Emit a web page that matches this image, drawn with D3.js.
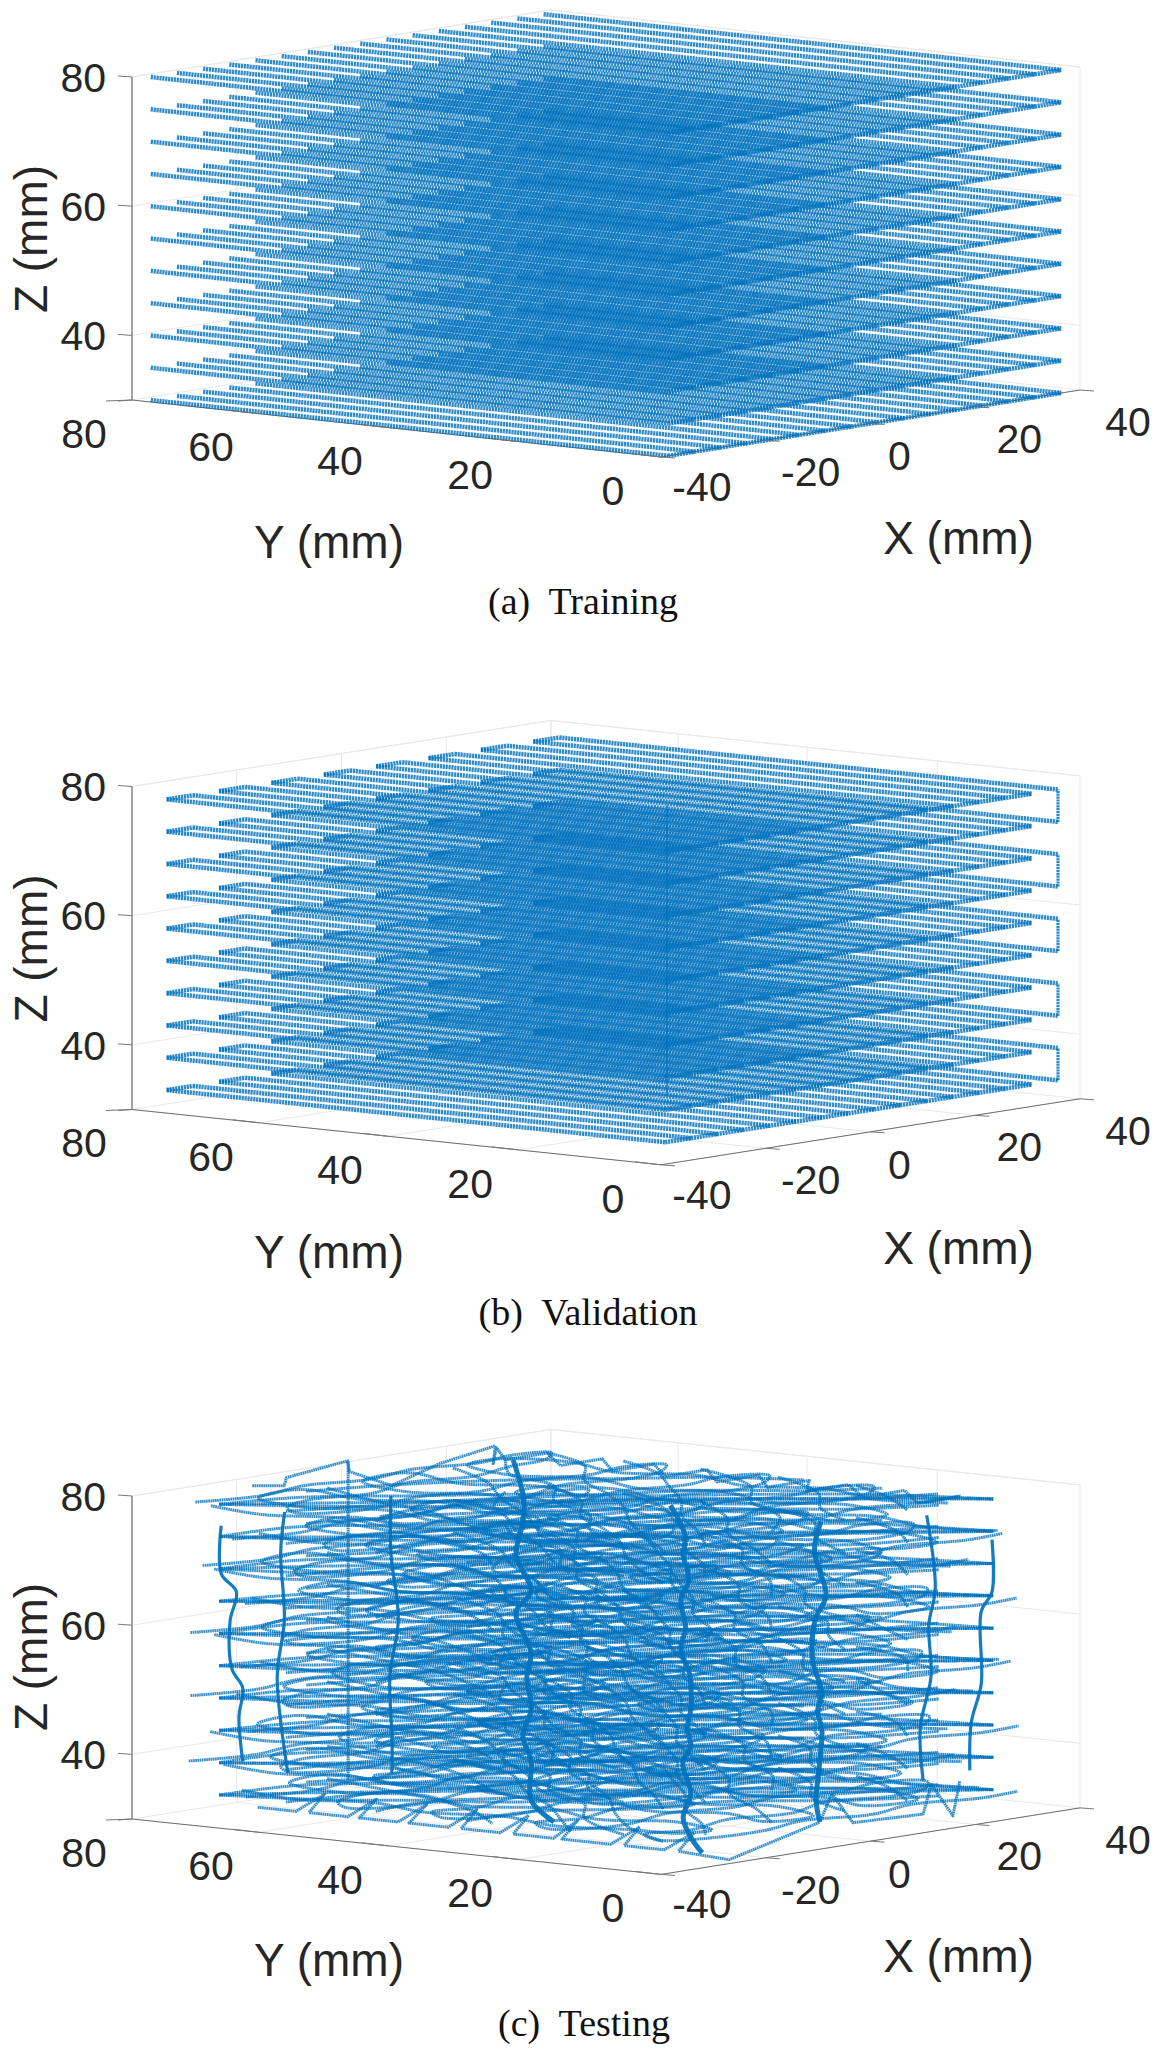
<!DOCTYPE html>
<html>
<head>
<meta charset="utf-8">
<script src="https://cdn.jsdelivr.net/npm/d3@7/dist/d3.min.js"></script>
<style>
html,body {margin:0;padding:0;background:#fff;}
svg {display:block;}
</style>
</head>
<body>
<svg id="holder"></svg>
<script>
// axis ticks
const z_ticks=[80,60,40];
const y_ticks=[80,60,40,20,0];
const x_ticks=[-40,-20,0,20,40];
const captions=['(a)  Training','(b)  Validation','(c)  Testing'];

// training scan: lines along Y, one set per layer
const train_x=[-38.6,-33.6,-28.6,-23.6,-18.6,-13.6,-8.6,-3.6,1.4,6.4,11.4,16.4,21.4,26.4,31.4,36.4];
const train_z=[30,35,40,45,50,55,60,65,70,75,80];
const train_y_far=78.2;
const train_y_near=0;

// validation scan
const val_x=[-39.2,-34.2,-29.2,-24.2,-19.2,-14.2,-9.2,-4.2,0.8,5.8,10.8,15.8,20.8,25.8,30.8,35.8];
const val_z=[33.4,38.4,43.4,48.4,53.4,58.4,63.4,68.4,73.4,78.4];
const val_y_far=75.2;
const val_y_near=0;
const val_riser=[-5,25.3];

// testing layers and how far each one sits off the mean track
const test_z=[33,38,43,48,53,58,63,68,73,78];
const test_shift_ax=[0.6,-1.1,1.4,-0.4,0.9,-1.5,0.2,1.2,-0.8,-0.2];
const test_shift_ay=[-3.7,3.9,-3.3,4.2,-2.6,3.3,-3.9,3.6,-2.7,3.6];
const test_shift_bx=[3.1,-2.9,-3.6,2.4,3.8,-3.2,2.7,-2.5,3.4,-3.7];
const test_shift_by=[1.1,-0.9,0.6,1.4,-1.2,0.3,-0.7,0.9,-1.3,0.4];

// runs along X, [X,Y]
const test_track_a=[[-30,74.5],[-20,72],[-10,74],[0,71.5],[10,73.5],[20,71],[28,72.5],[32.6,70],[28,67],
  [20,66],[10,63.5],[0,66],[-10,63],[-20,65],[-27,62.5],[-30,59],[-27,55],
  [-20,54],[-10,56.5],[0,54],[10,56],[20,53.5],[28,55],[32.6,52],[28,49],
  [20,47.5],[10,50],[0,47],[-10,49],[-20,46.5],[-27,48],[-30,44],[-27,40],
  [-20,39],[-10,41.5],[0,39],[10,41],[20,38.5],[28,40],[32.6,36],[28,33],
  [20,31],[10,33.5],[0,31],[-10,33],[-20,30.5],[-27,32],[-30,28],[-27,24],
  [-20,23],[-10,25.5],[0,23],[10,25],[20,22.5],[28,24],[32.6,20],[28,17],
  [20,15.5],[10,18],[0,15],[-10,17],[-20,14.5],[-27,16],[-30,12],[-26,9],
  [-15,8],[-5,10],[5,7.5],[15,9.5],[25,7],[32.6,7.5]];
// runs along Y, [X,Y]
const test_track_b=[[-28,74],[-30.5,64],[-27,54],[-30,44],[-27,34],[-30,24],[-27,15],[-26,9],
  [-21,8],[-18,15],[-22,24],[-18,34],[-22,44],[-18,54],[-22,64],[-19,74],
  [-12,76],[-9,74],[-12,64],[-8,54],[-12,44],[-8,34],[-12,24],[-8,15],[-11,8],
  [-3,7],[1,15],[-3,24],[1,34],[-3,44],[1,54],[-3,64],[1,74],
  [8,76],[11,74],[7,64],[11,54],[7,44],[11,34],[7,24],[11,15],[8,8],
  [17,7],[21,15],[17,24],[21,34],[17,44],[21,54],[17,64],[21,74],
  [27,75],[31,66],[27,56],[31,46],[27,36],[31,26],[27,16],[30,8]];
// corner to corner tracks and the long sweeps, present on every layer
const test_diagonals=[
  [[-30,74.5],[-22,66],[-13,56.5],[-4,47],[5,37],[14,27.5],[23,17],[32.6,6.7]],
  [[-30,74.5],[-24,62],[-14,50],[-2,42],[8,34],[18,22],[26,14],[32.6,6.7]],
  [[-30,74.5],[-18,72],[-8,62],[2,52],[10,40],[20,30],[28,20],[32.6,6.7]],
  [[32,74],[24,62],[14,54],[6,44],[-3,34],[-12,26],[-22,16],[-30,7]],
  [[14,74],[6,60],[-4,50],[-14,38],[-24,28],[-30,20]],
  [[32,50],[22,36],[12,28],[2,16],[-8,8]],
  [[-10,74],[-14,62],[-18,50],[-24,40],[-30,32]],
  [[24,74],[14,66],[8,54],[-2,46],[-10,34],[-20,26],[-28,14]],
  [[32,62],[24,50],[16,42],[6,32],[-4,24],[-14,14],[-22,7]],
  [[32,38],[24,26],[14,18],[6,8]],
  [[32,26],[26,16],[18,8]],
  [[-30,50],[-20,52],[-10,42],[0,38],[10,24],[20,18],[32,14]],
  [[-30,64],[-18,60],[-6,54],[6,46],[18,38],[26,28],[32,22]],
  [[-30,36],[-18,34],[-8,26],[4,22],[14,12],[24,8]],
  [[-14,74],[-2,68],[10,60],[20,50],[28,42],[32,34]]];
// rim of the top layer, [X,Y,Z]
const test_rim_top=[[-24.3,74,80.2],[-18.2,74,79.4],[-17.8,74,80.6],[-6.1,74,81.7],[-5.8,74,80],[2.3,74,76.8],[11.4,74,79],[22.1,74,80.4],[21.7,74,77.7],
  [32,82,78],[24,74,78],[32,74,78],[24,65.3,78],[32,65.3,78],[24,57.2,78],[32,57.2,78],[24,49,78],[32,49,78],[24,41,78],[32,41,78],
  [24,33.2,78],[32,33.2,78],[24,27.2,78],[32,27.2,78],[24,18.7,78],[32,18.7,78],[24,11,78],[32,11,78]];
// rim of the bottom layer, [X,Y,Z]
const test_rim_bottom=[[-36,63.5,33],[-36,57.5,33],[-33,55.5,35.5],[-36,55.5,33],[-36,49.5,33],[-33,47.5,35.5],[-36,47.7,33],[-36,41.7,33],[-33,39.7,35.5],
  [-36,40,33],[-36,34,33],[-33,32,35.5],[-36,32,33],[-36,26,33],[-33,24,35.5],[-36,24,33],[-36,18,33],[-33,16.8,35.5],[-36,16.8,33],[-36,10,33],[-33,8.1,35.5],
  [-36,8.1,33],[-36,2.5,33],[-33,0.5,35.5],[-36,0.5,33],[-27,0,30.6],[-8.3,1,33.9],[-6,1,38],[-2,1,33],[11.4,1,32.6],[13,1,37],[17.1,1,31.6],[18.4,1,36.8]];
// steep bands that run down through the layers, [X,Y,Z]
const test_bands=[
  [[25,73.6,77.9],[21,68.6,72.7],[17,65.5,69.9],[12,62.4,65.9],[8,56.8,61.5],[4,55.9,58.8],[0,50.3,53.7],[-4,47.7,50.6],[-8,43.8,46.7],[-12,41.8,43.1],[-17,36.5,40.6],[-21,33.3,35.3],[-25,26.6,33.2]],
  [[25,49,73.4],[20,42.7,70.1],[16,39.7,67.8],[12,35.6,65],[8,33.6,62.7],[4,29.7,59],[0,27.2,56.7],[-4,22.6,53.6],[-8,19.3,49.3],[-11,17.6,46.7],[-14,14.9,44.8],[-17,13.8,42.8],[-20,10.5,38.7],[-22,10.1,35.3],[-24,7.5,32.7],[-26,4.5,31]],
  [[30,29.8,72.3],[27,28.4,68.2],[24,24.2,62.2],[21,23.5,58.8],[18,21.4,53.1],[15,17.8,48.9],[12,16.2,46.8],[9,13.4,44.4],[6,11.5,40.3],[3,9.8,34.6],[0,7.1,32.2]],
  [[0,72.2,75.7],[-5,68.1,68.1],[-10,62.8,58.8],[-15,60,50.9],[-20,55.6,42.1],[-24,52.4,37.9]],
  [[-18,74.1,75.3],[-19,73.9,69.2],[-20,72.5,59.1],[-21,72.8,50.2],[-22,70.3,35.8]],
  [[-30,74.2,74.7],[-30,74.2,67.3],[-30,71.8,64.7],[-30,72.8,60.1],[-30,72.5,52.7],[-30,70.8,49.9],[-30,71.4,45.4],[-30,70.8,38.6]],
  [[32.6,6.9,71.7],[32.6,6.9,63.6],[32.6,8.4,60.4],[32.6,8.4,49.2],[32.6,9.8,43],[32.6,10,35.6]],
  [[26,11.2,75.8],[26,10,64.6],[26,10.9,58.9],[26,10.6,50.9],[26,12.1,42.8],[26,11.7,34.7]]];
const test_post=[[-6,74,81.6],[-6,74,32.2]];

// box of each panel on the page
const panels=[
  {o:[132,400],ey:[529,57],ex:[419,-67],ez:[0,-323],dy:0,cap:[583,602]},
  {o:[132,1109.5],ey:[529,55.3],ex:[419,-66],ez:[0,-323],dy:709.5,cap:[588,1313]},
  {o:[132,1819],ey:[529,55.4],ex:[419,-66.5],ez:[0,-323],dy:1418,cap:[584,2024]}
];
const x_label_off=[[41,29],[45,31],[29,32],[44,31],[48,31.5]];

const blue='#0072BD';
const W=1159,H=2049;
const xS=d3.scaleLinear().domain([-40,40]).range([0,1]);
const yS=d3.scaleLinear().domain([80,60,40,20,0]).range([0,0.24,0.484,0.73,1]);
const zS=d3.scaleLinear().domain([30,80]).range([0,1]);

const svg=d3.select('#holder').attr('width',W).attr('height',H);
svg.append('rect').attr('width',W).attr('height',H).attr('fill','#fff');

function projector(p) {
  return function(d) {
    var u=xS(d[0]),t=yS(d[1]),v=zS(d[2]);
    return [p.o[0]+p.ey[0]*t+p.ex[0]*u+p.ez[0]*v, p.o[1]+p.ey[1]*t+p.ex[1]*u+p.ez[1]*v];
  };
}

function draw_frame(g,P) {
  var line3=d3.line().x(function(d) {return P(d)[0];}).y(function(d) {return P(d)[1];});
  var grid=g.append('g').attr('fill','none').attr('stroke','#e9e9e9').attr('stroke-width',1);
  z_ticks.forEach(function(z) {
    grid.append('path').attr('d',line3([[-40,80,z],[40,80,z],[40,0,z]]));
  });
  x_ticks.forEach(function(x) {
    grid.append('path').attr('d',line3([[x,0,30],[x,80,30],[x,80,80]]));
  });
  y_ticks.forEach(function(y) {
    grid.append('path').attr('d',line3([[-40,y,30],[40,y,30],[40,y,80]]));
  });
  grid.append('path').attr('d',line3([[-40,80,80],[40,80,80],[40,0,80]]));

  var axes=g.append('g').attr('fill','none');
  axes.append('path').attr('d',line3([[-40,80,30],[-40,80,80]])).attr('stroke','#8f8f8f').attr('stroke-width',1.6);
  axes.append('path').attr('d',line3([[-40,80,30],[-40,0,30],[40,0,30]])).attr('stroke','#6e6e6e').attr('stroke-width',1);
}

function draw_ticks(g,P,p) {
  var tk=g.append('g').attr('stroke','#777').attr('stroke-width',1).attr('fill','none');
  var lab=g.append('g').attr('fill','#262626').attr('font-family','"Liberation Sans",Arial,sans-serif').attr('font-size',41);
  z_ticks.forEach(function(z) {
    var a=P([-40,80,z]);
    tk.append('line').attr('x1',a[0]).attr('y1',a[1]).attr('x2',a[0]-14).attr('y2',a[1]-1);
    lab.append('text').attr('x',106).attr('y',a[1]).attr('dy','0.36em').attr('text-anchor','end').text(z);
  });
  tk.append('line').datum(P([-40,80,30])).attr('x1',function(a) {return a[0];}).attr('y1',function(a) {return a[1];})
    .attr('x2',function(a) {return a[0]-14;}).attr('y2',function(a) {return a[1]+1;});
  y_ticks.forEach(function(y) {
    var a=P([-40,y,30]);
    tk.append('line').attr('x1',a[0]).attr('y1',a[1]).attr('x2',a[0]-26).attr('y2',a[1]+1-(y==80?0:4));
    lab.append('text').attr('x',a[0]-48).attr('y',a[1]+33).attr('dy','0.36em').attr('text-anchor','middle').text(y);
  });
  x_ticks.forEach(function(x,i) {
    var a=P([x,0,30]);
    tk.append('line').attr('x1',a[0]).attr('y1',a[1]).attr('x2',a[0]+14).attr('y2',a[1]+1);
    lab.append('text').attr('x',a[0]+x_label_off[i][0]).attr('y',a[1]+x_label_off[i][1]).attr('dy','0.36em').attr('text-anchor','middle').text(x);
  });
  var ttl=g.append('g').attr('fill','#262626').attr('font-family','"Liberation Sans",Arial,sans-serif').attr('font-size',46).attr('text-anchor','middle');
  ttl.append('text').attr('x',329).attr('y',541.7+p.dy).attr('dy','0.36em').text('Y (mm)');
  ttl.append('text').attr('x',958.5).attr('y',537.8+p.dy).attr('dy','0.36em').text('X (mm)');
  ttl.append('text').attr('transform','translate(30,'+(239+p.dy)+') rotate(-90)').attr('dy','0.36em').text('Z (mm)');
}

function draw_scan(g,P,xs,zs,far,near,opts) {
  var line3=d3.line().x(function(d) {return P(d)[0];}).y(function(d) {return P(d)[1];});
  var s=g.append('g').attr('fill','none').attr('stroke',blue).attr('stroke-width',4.5).attr('stroke-dasharray','2.2 0.7').attr('stroke-opacity',0.82);
  zs.forEach(function(z,k) {
    xs.forEach(function(x) {
      s.append('path').attr('d',line3([[x,far,z],[x,near,z]]));
    });
    var edge=opts.box?xs.slice(0,xs.length-1):xs;
    s.append('path').attr('d',line3(edge.map(function(x) {return [x,near,z];})));
    if (opts.box) {
      for (var i=0; i+1<xs.length; i+=2) {
        s.append('path').attr('d',line3([[xs[i],far,z],[xs[i+1],far,z]]));
      }
      if (k%2==0 && k+1<zs.length) {
        s.append('path').attr('d',line3([[xs[xs.length-1],near,z],[xs[xs.length-1],near,zs[k+1]]])).attr('stroke-width',3.2);
      }
    }
  });
  if (opts.riser) {
    s.append('path').attr('d',line3([[opts.riser[0],opts.riser[1],zs[0]],[opts.riser[0],opts.riser[1],zs[zs.length-1]]])).attr('stroke-width',2).attr('stroke-dasharray',null);
  }
}

function draw_test(g,P) {
  var line3=d3.line().x(function(d) {return P(d)[0];}).y(function(d) {return P(d)[1];});
  var smooth=d3.line().x(function(d) {return P(d)[0];}).y(function(d) {return P(d)[1];}).curve(d3.curveCatmullRom.alpha(0.5));
  var s=g.append('g').attr('fill','none').attr('stroke',blue).attr('stroke-linejoin','round');
  var thin=s.append('g').attr('stroke-width',3).attr('stroke-dasharray','1.7 0.5').attr('stroke-opacity',0.8);
  test_z.forEach(function(z,k) {
    thin.append('path').attr('d',smooth(test_track_a.map(function(d) {return [d[0]+test_shift_ax[k],d[1]+test_shift_ay[k],z];})));
    thin.append('path').attr('d',smooth(test_track_b.map(function(d) {return [d[0]+test_shift_bx[k],d[1]+test_shift_by[k],z];})));
    test_diagonals.forEach(function(tr,i) {
      thin.append('path').attr('d',smooth(tr.map(function(d,j) {
        var end=(j==0 || j==tr.length-1);
        return [d[0]+(end?0:test_shift_ax[(k+i)%10]),d[1]+(end?0:test_shift_by[(k+i)%10]),z];
      })));
    });
  });
  thin.append('path').attr('d',line3(test_rim_top));
  thin.append('path').attr('d',line3(test_rim_bottom));
  thin.append('path').attr('d',line3(test_post));
  var thick=s.append('g').attr('stroke-opacity',0.92);
  test_bands.forEach(function(b,i) {
    thick.append('path').attr('d',smooth(b)).attr('stroke-width',i<3?5:3.2);
  });
}

panels.forEach(function(p,i) {
  var g=svg.append('g');
  var P=projector(p);
  draw_frame(g,P);
  if (i==0) draw_scan(g,P,train_x,train_z,train_y_far,train_y_near,{});
  if (i==1) draw_scan(g,P,val_x,val_z,val_y_far,val_y_near,{box:true,riser:val_riser});
  if (i==2) draw_test(g,P);
  draw_ticks(g,P,p);
  g.append('text').attr('x',p.cap[0]).attr('y',p.cap[1]).attr('dy','0.32em').attr('text-anchor','middle')
    .attr('font-family','"Liberation Serif","Times New Roman",serif').attr('font-size',38).attr('fill','#111')
    .style('white-space','pre').text(captions[i]);
});
</script>
</body>
</html>
